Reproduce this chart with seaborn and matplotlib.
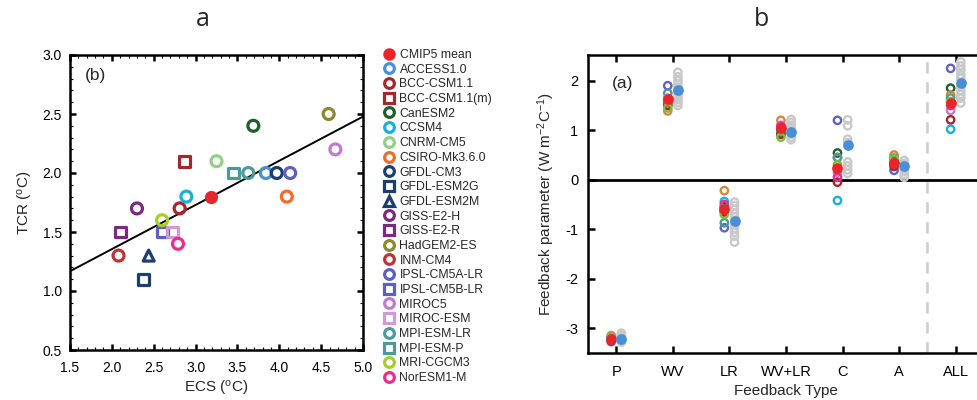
import numpy as np
import pandas as pd
import matplotlib
matplotlib.use("Agg")
import matplotlib.pyplot as plt
import seaborn as sns
from matplotlib.lines import Line2D
from matplotlib.ticker import MultipleLocator

# ---------------- data: panel (b) ECS vs TCR ----------------
models = ["ACCESS1.0", "BCC-CSM1.1", "BCC-CSM1.1(m)", "CanESM2", "CCSM4", "CNRM-CM5",
          "CSIRO-Mk3.6.0", "GFDL-CM3", "GFDL-ESM2G", "GFDL-ESM2M", "GISS-E2-H", "GISS-E2-R",
          "HadGEM2-ES", "INM-CM4", "IPSL-CM5A-LR", "IPSL-CM5B-LR", "MIROC5", "MIROC-ESM",
          "MPI-ESM-LR", "MPI-ESM-P", "MRI-CGCM3", "NorESM1-M"]
ecs = [3.84, 2.81, 2.87, 3.69, 2.89, 3.25, 4.09, 3.97, 2.38, 2.44, 2.30, 2.10,
       4.59, 2.08, 4.13, 2.60, 4.67, 2.72, 3.63, 3.45, 2.60, 2.79]
tcr = [2.0, 1.7, 2.1, 2.4, 1.8, 2.1, 1.8, 2.0, 1.1, 1.3, 1.7, 1.5,
       2.5, 1.3, 2.0, 1.5, 2.2, 1.5, 2.0, 2.0, 1.6, 1.4]
model_colors = ["#4a90d9", "#a3282e", "#a3282e", "#1f5e2e", "#1ab0d8", "#90d08a",
                "#f26b2a", "#1c3f6e", "#1c3f6e", "#1c3f6e", "#7b2a80", "#7b2a80",
                "#8a8a2a", "#b5373b", "#5f5fbd", "#5f5fbd", "#c07ccc", "#d09ad6",
                "#4a9a9a", "#4a9a9a", "#a8cc2a", "#ec2d8c"]
model_markers = ["o", "o", "s", "o", "o", "o", "o", "o", "s", "^", "o", "s",
                 "o", "o", "o", "s", "o", "s", "o", "s", "o", "o"]
mean_ecs = 3.18
mean_tcr = 1.80

# ---------------- data: panel (a) feedbacks ----------------
feedback_types = ["P", "WV", "LR", "WV+LR", "C", "A", "ALL"]
fb_models = ["IPSL-CM5A-LR", "CanESM2", "HadGEM2-ES", "MPI-ESM-LR", "MIROC5",
             "INM-CM4", "CCSM4", "NorESM1-M", "MRI-CGCM3"]
fb_colors = ["#6262c0", "#1f5e2e", "#d4883a", "#4a9a9a", "#c07ccc",
             "#a3282e", "#1ab0d8", "#ec2d8c", "#7cbf3a"]
fb_values = {
    "IPSL-CM5A-LR": [-3.27, 1.90, -0.97, 0.93, 1.20, 0.19, 2.25],
    "CanESM2":      [-3.20, 1.55, -0.55, 1.00, 0.54, 0.35, 1.85],
    "HadGEM2-ES":   [-3.15, 1.39, -0.22, 1.20, 0.45, 0.50, 1.71],
    "MPI-ESM-LR":   [-3.22, 1.75, -0.87, 0.95, 0.45, 0.40, 1.65],
    "MIROC5":       [-3.18, 1.65, -0.62, 1.10, 0.15, 0.30, 1.40],
    "INM-CM4":      [-3.25, 1.50, -0.65, 0.92, -0.05, 0.27, 1.21],
    "CCSM4":        [-3.20, 1.60, -0.44, 1.05, -0.42, 0.44, 1.02],
    "NorESM1-M":    [-3.22, 1.58, -0.50, 1.08, 0.05, 0.37, 1.50],
    "MRI-CGCM3":    [-3.19, 1.45, -0.70, 0.86, 0.30, 0.42, 1.58],
}
fb_cmip5_mean = [-3.21, 1.63, -0.60, 1.04, 0.24, 0.34, 1.55]
fb_other = {
    "P":     [-3.10, -3.13, -3.16, -3.18, -3.20, -3.22, -3.24, -3.26, -3.28],
    "WV":    [2.17, 2.08, 2.00, 1.93, 1.87, 1.80, 1.74, 1.68, 1.62, 1.56, 1.50],
    "LR":    [-0.45, -0.52, -0.60, -0.68, -0.75, -0.82, -0.90, -0.98, -1.06, -1.14, -1.26],
    "WV+LR": [1.22, 1.16, 1.10, 1.04, 0.98, 0.92, 0.86, 0.81],
    "C":     [1.21, 1.09, 0.82, 0.75, 0.36, 0.28, 0.20, 0.13],
    "A":     [0.39, 0.33, 0.28, 0.22, 0.16, 0.10, 0.05],
    "ALL":   [2.38, 2.30, 2.22, 2.12, 2.05, 1.88, 1.80, 1.72, 1.65, 1.55],
}
fb_other_mean = [-3.21, 1.81, -0.84, 0.97, 0.70, 0.27, 1.95]

# ---------------- style ----------------
sns.set_theme(style="ticks")
plt.rcParams["font.family"] = ["Liberation Sans", "DejaVu Sans"]
plt.rcParams["mathtext.fontset"] = "custom"
plt.rcParams["mathtext.rm"] = "Liberation Sans"
plt.rcParams["mathtext.it"] = "Liberation Sans:italic"
plt.rcParams["axes.unicode_minus"] = False

W, H = 977, 400
fig = plt.figure(figsize=(W / 100, H / 100), dpi=100)


def rect(l, t, r, b):
    return [l / W, 1 - b / H, (r - l) / W, (b - t) / H]


ax1 = fig.add_axes(rect(70, 55, 363, 350))
ax2 = fig.add_axes(rect(588, 55, 984, 353))

RED = "#e8252a"
BLUE = "#4a8fd6"
GRAY = "#c9c9c9"


def open_markers(coll):
    fc = coll.get_facecolors()
    coll.set_edgecolors(fc)
    coll.set_facecolors("none")

# ---------------- panel (b) ----------------
ax1.set_xlim(1.5, 5.0)
ax1.set_ylim(0.5, 3.0)
df1 = pd.DataFrame({"model": models, "ECS": ecs, "TCR": tcr})
sns.regplot(data=df1, x="ECS", y="TCR", scatter=False, ci=None, truncate=False,
            line_kws=dict(color="black", lw=1.4), ax=ax1)
sns.scatterplot(data=df1, x="ECS", y="TCR", hue="model", style="model",
                palette=dict(zip(models, model_colors)),
                markers=dict(zip(models, model_markers)),
                s=62, linewidth=2.3, legend=False, ax=ax1, zorder=3)
open_markers(ax1.collections[-1])
sns.scatterplot(x=[mean_ecs], y=[mean_tcr], color=RED, s=90, linewidth=0,
                ax=ax1, zorder=4, legend=False)

ax1.xaxis.set_major_locator(MultipleLocator(0.5))
ax1.xaxis.set_minor_locator(MultipleLocator(0.1))
ax1.yaxis.set_major_locator(MultipleLocator(0.5))
ax1.yaxis.set_minor_locator(MultipleLocator(0.1))
ax1.xaxis.set_major_formatter(matplotlib.ticker.FormatStrFormatter("%.1f"))
ax1.yaxis.set_major_formatter(matplotlib.ticker.FormatStrFormatter("%.1f"))
ax1.tick_params(which="both", direction="in", top=True, right=True,
                bottom=True, left=True, colors="black", labelsize=10)
ax1.tick_params(which="major", length=4.5, width=1.8)
ax1.tick_params(which="minor", length=2.5, width=0.8)
ax1.tick_params(axis="x", pad=8)
ax1.tick_params(axis="y", pad=6)
ax1.set_xlabel(r"ECS ($^{\mathrm{o}}$C)", fontsize=11, labelpad=3)
ax1.set_ylabel(r"TCR ($^{\mathrm{o}}$C)", fontsize=11, labelpad=5)
for sp in ax1.spines.values():
    sp.set_linewidth(1.8)
    sp.set_color("black")
ax1.text(0.05, 0.93, "(b)", transform=ax1.transAxes, fontsize=12.5, va="center")

handles = [Line2D([], [], ls="none", marker="o", ms=9, mfc=RED, mec=RED, mew=0)]
for c, m in zip(model_colors, model_markers):
    handles.append(Line2D([], [], ls="none", marker=m, ms=7, mfc="none", mec=c, mew=2.3))
fig.legend(handles, ["CMIP5 mean"] + models, loc="upper left",
           bbox_to_anchor=(383 / W, 1 - 49 / H), frameon=False, fontsize=8.8,
           handlelength=1.0, handletextpad=0.35, labelspacing=0.22, borderpad=0,
           borderaxespad=0)

# ---------------- panel (a) ----------------
off = 0.09
rows = []
for mname in fb_models:
    for i, ft in enumerate(feedback_types):
        rows.append({"model": mname, "pos": i - off, "value": fb_values[mname][i]})
dfm = pd.DataFrame(rows)
rows = []
for i, ft in enumerate(feedback_types):
    for v in fb_other[ft]:
        rows.append({"pos": i + off, "value": v})
dfo = pd.DataFrame(rows)
pos = np.arange(len(feedback_types))

ax2.set_xlim(-0.5, 6.5)
ax2.set_ylim(-3.5, 2.52)
ax2.axhline(0, color="black", lw=2.0, zorder=1)
ax2.axvline(5.5, color="#cccccc", lw=1.8, ls=(0, (4.5, 3.5)), zorder=1)

sns.scatterplot(data=dfo, x="pos", y="value", color=GRAY, s=28, linewidth=1.7,
                ax=ax2, zorder=3, legend=False)
open_markers(ax2.collections[-1])
sns.scatterplot(data=dfm, x="pos", y="value", hue="model",
                palette=dict(zip(fb_models, fb_colors)), s=28, linewidth=1.7,
                ax=ax2, zorder=3, legend=False)
open_markers(ax2.collections[-1])
sns.scatterplot(x=pos - off, y=fb_cmip5_mean, color=RED, s=60, linewidth=0,
                ax=ax2, zorder=4, legend=False)
sns.scatterplot(x=pos + off, y=fb_other_mean, color=BLUE, s=60, linewidth=0,
                ax=ax2, zorder=4, legend=False)

ax2.set_xticks(pos)
ax2.set_xticklabels(feedback_types)
ax2.set_yticks([-3, -2, -1, 0, 1, 2])
ax2.tick_params(direction="in", top=True, bottom=True, left=True, right=True,
                colors="black", labelsize=10.5, length=5, width=1.8)
ax2.tick_params(axis="x", pad=9)
ax2.tick_params(axis="y", pad=7)
ax2.set_xlabel("Feedback Type", fontsize=11, labelpad=3)
ax2.set_ylabel(r"Feedback parameter (W m$^{-2}$C$^{-1}$)", fontsize=11, labelpad=6)
for sp in ax2.spines.values():
    sp.set_linewidth(1.8)
    sp.set_color("black")
ax2.text(0.06, 0.905, "(a)", transform=ax2.transAxes, fontsize=12.5, va="center")

fig.text(203 / W, 1 - 20 / H, "a", fontsize=18, ha="center", va="center",
         family=["Open Sans", "DejaVu Sans"])
fig.text(762 / W, 1 - 20 / H, "b", fontsize=18, ha="center", va="center",
         family=["Open Sans", "DejaVu Sans"])

fig.savefig("out.png", dpi=100)
